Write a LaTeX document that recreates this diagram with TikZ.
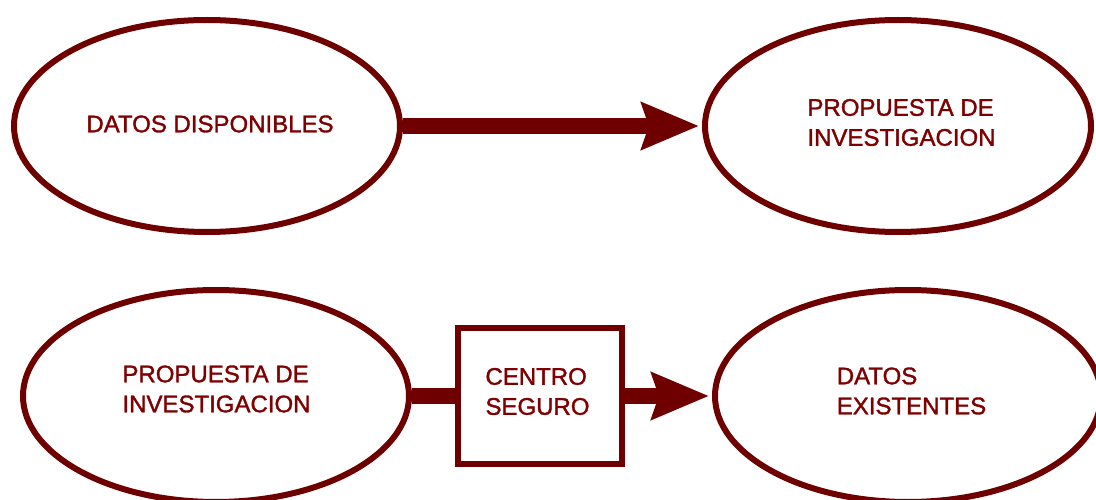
\documentclass[tikz,border=0pt]{standalone}
\usepackage{fontspec}
\setmainfont{Liberation Sans}
\newfontfamily\labelfont{Liberation Sans}[FakeBold=1.4]
\usetikzlibrary{shapes.geometric,arrows.meta}
\definecolor{maroonline}{HTML}{6E0000}
\definecolor{maroontext}{HTML}{7E0000}
\tikzset{
  oval/.style={ellipse, draw=maroonline, line width=6pt, fill=white,
    minimum width=386pt, minimum height=212pt, inner sep=0pt},
  boxnode/.style={rectangle, draw=maroonline, line width=6pt, fill=white,
    minimum width=164pt, minimum height=136pt, inner sep=0pt},
  txt/.style={text=maroontext, align=left, inner sep=0pt,
    font=\labelfont\fontsize{24}{30}\selectfont},
  bigarrow/.style={draw=maroonline, line width=16pt,
    -{Stealth[length=57pt, width=46pt, inset=7pt]}, shorten >=3pt},
  bigline/.style={draw=maroonline, line width=16pt}
}
\begin{document}
\begin{tikzpicture}[x=1pt,y=-1pt]
\useasboundingbox (0,0) rectangle (1096,500);
\begin{scope}
\clip (0,0) rectangle (1096,500);
\node[oval] (dd) at (207,126) {};
\node[oval] (pi1) at (898,126) {};
\node[oval] (pi2) at (216,396) {};
\node[boxnode] (cs) at (540,396) {};
\node[oval] (de) at (908,396) {};
\draw[bigarrow] (dd.east) -- (pi1.west);
\draw[bigline] (pi2.east) -- (cs.west);
\draw[bigarrow] (cs.east) -- (de.west);
\node[txt] (ddt) at (210,124) {DATOS DISPONIBLES};
\node[txt] (pi1t) at (901.5,122.5) {PROPUESTA DE\\INVESTIGACION};
\node[txt] (pi2t) at (216.5,389) {PROPUESTA DE\\INVESTIGACION};
\node[txt] (cst) at (537.5,391.5) {CENTRO\\SEGURO};
\node[txt] (det) at (911.5,391) {DATOS\\EXISTENTES};
\end{scope}
\end{tikzpicture}
\end{document}
